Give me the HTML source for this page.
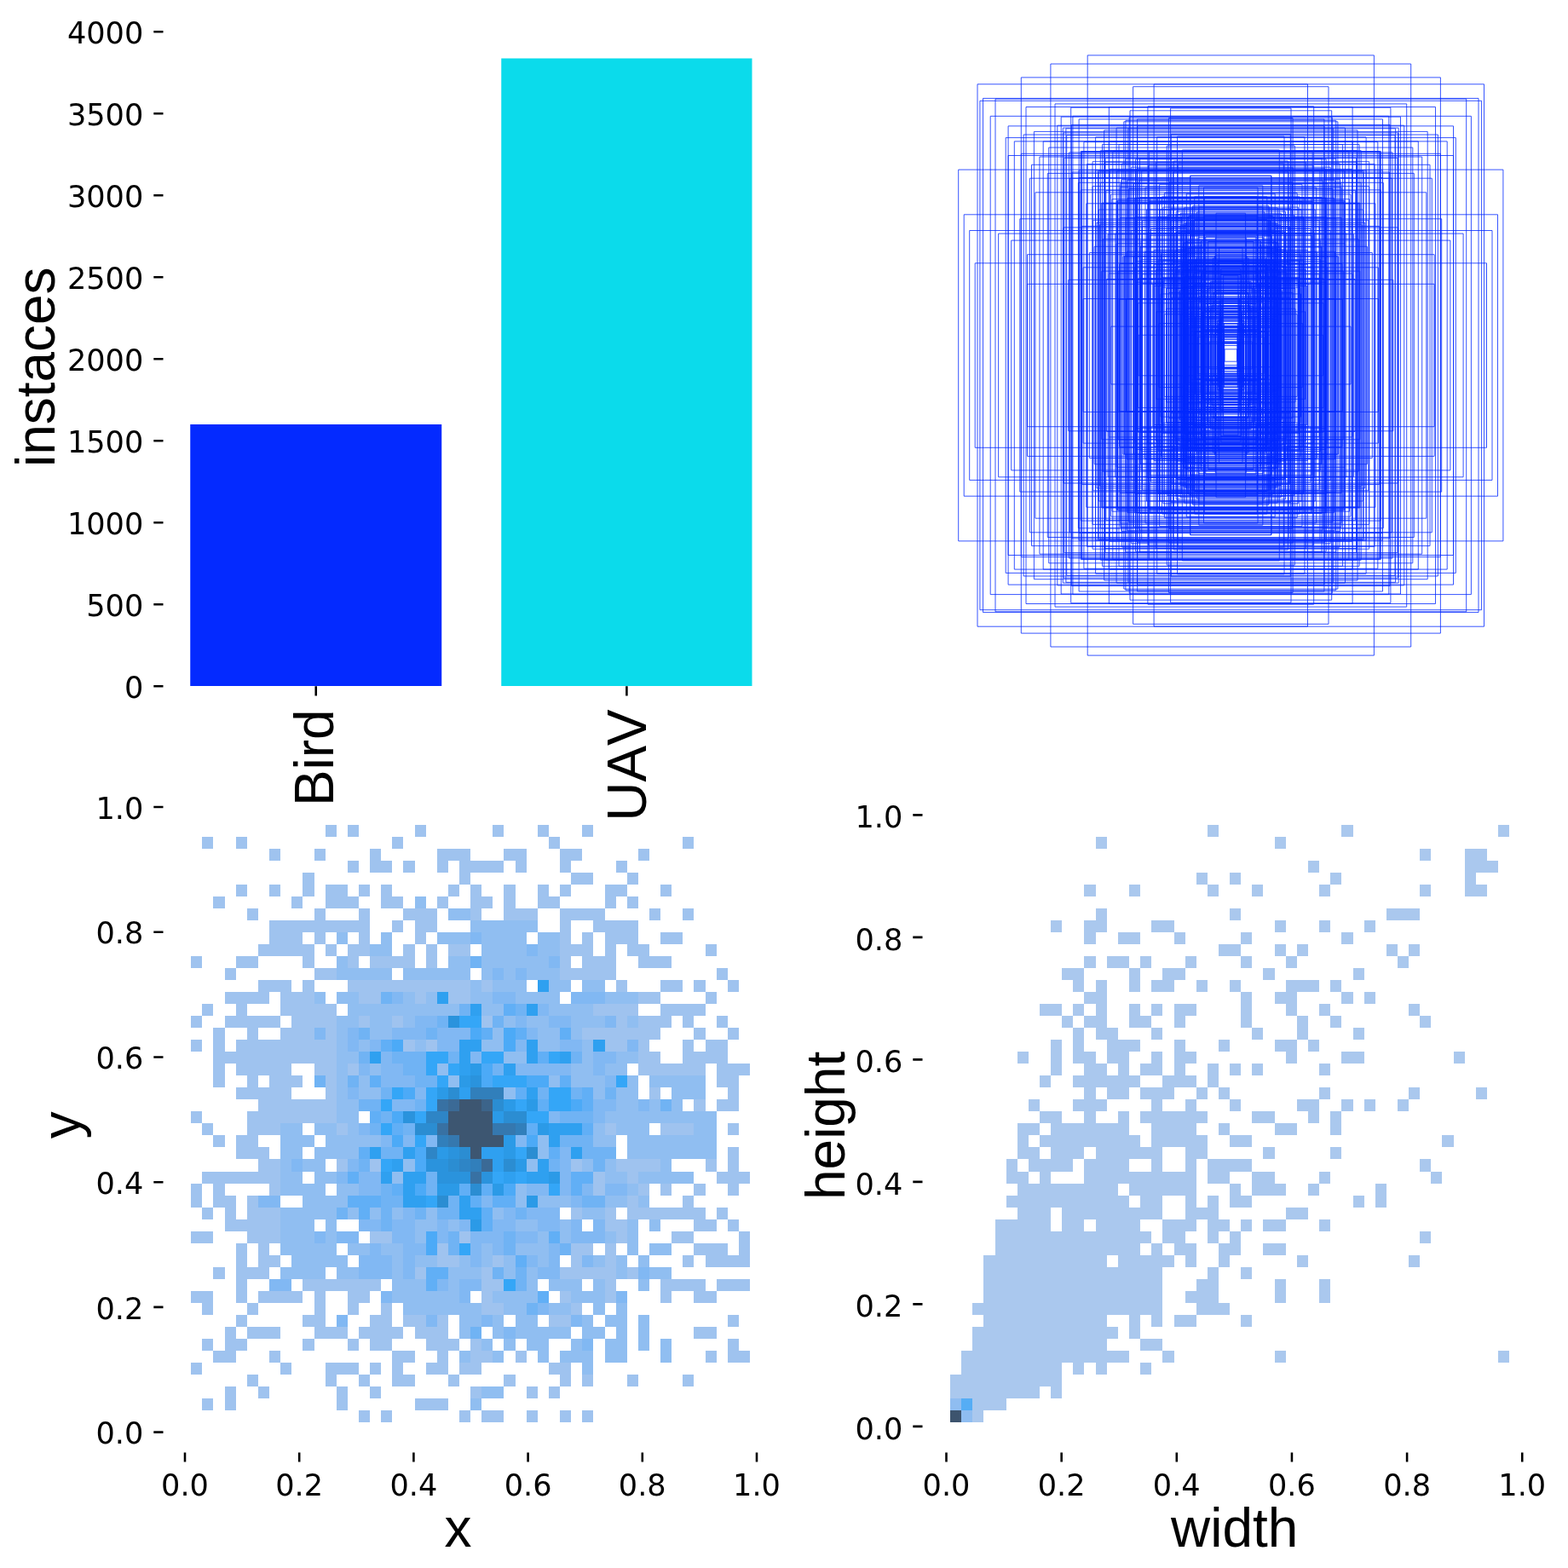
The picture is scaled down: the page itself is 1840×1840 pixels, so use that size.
<!DOCTYPE html>
<html lang="en"><head><meta charset="utf-8"><title>labels</title>
<style>
html,body{margin:0;padding:0;background:#fff;}
body{width:1840px;height:1840px;overflow:hidden;}
svg{display:block;}
.t{font-family:"DejaVu Sans","Liberation Sans",sans-serif;font-size:35.13px;fill:#000;}
.l{font-family:"Liberation Sans",Arial,Helvetica,sans-serif;font-size:63.9px;fill:#000;font-kerning:none;}
.k{stroke:#000;stroke-width:2.56;fill:none;}
</style></head>
<body>
<svg width="1840" height="1840" viewBox="0 0 1840 1840">
<rect x="0" y="0" width="1840" height="1840" fill="#fff"/>
<g id="bars">
<rect x="223.25" y="498.00" width="295.00" height="307.00" fill="#042aff"/>
<rect x="588.25" y="68.50" width="294.25" height="736.50" fill="#0bdbeb"/>
<text class="t" text-anchor="end" x="168.30" y="818.95">0</text>
<text class="t" text-anchor="end" x="168.30" y="722.95">500</text>
<text class="t" text-anchor="end" x="168.30" y="626.95">1000</text>
<text class="t" text-anchor="end" x="168.30" y="530.95">1500</text>
<text class="t" text-anchor="end" x="168.30" y="434.95">2000</text>
<text class="t" text-anchor="end" x="168.30" y="338.95">2500</text>
<text class="t" text-anchor="end" x="168.30" y="242.95">3000</text>
<text class="t" text-anchor="end" x="168.30" y="146.95">3500</text>
<text class="t" text-anchor="end" x="168.30" y="50.95">4000</text>
<path class="k" d="M180.30 805.25H191.50M180.30 709.25H191.50M180.30 613.25H191.50M180.30 517.25H191.50M180.30 421.25H191.50M180.30 325.25H191.50M180.30 229.25H191.50M180.30 133.25H191.50M180.30 37.25H191.50M370.75 805.25V816.40M735.40 805.25V816.40"/>
<text class="l" transform="translate(390.80 946.00) rotate(-90)">Bird</text>
<text class="l" transform="translate(758.25 963.70) rotate(-90)">UAV</text>
<text class="l" text-anchor="middle" transform="translate(63.60 430.80) rotate(-90)">instaces</text>
</g>
<g id="rects" fill="none" stroke="#042aff" stroke-width="0.8" stroke-opacity="1">
<path d="M1276.2 64.9h336.2v704.2h-336.2zM1232.9 75.0h422.8v684.0h-422.8zM1198.3 90.9h492.1v652.2h-492.1zM1147.0 98.8h594.5v636.4h-594.5zM1354.1 98.8h180.4v636.4h-180.4zM1329.6 101.7h229.4v630.6h-229.4zM1153.5 115.4h581.5v603.2h-581.5zM1149.9 118.3h588.7v597.4h-588.7zM1168.0 116.1h552.7v601.7h-552.7zM1238.0 121.9h412.7v590.2h-412.7zM1204.0 125.5h480.5v583.0h-480.5zM1256.7 126.2h375.2v581.5h-375.2zM1301.4 125.5h285.7v583.0h-285.7zM1346.9 124.8h194.8v584.4h-194.8zM1326.0 129.8h236.7v574.3h-236.7zM1373.6 127.0h141.4v580.1h-141.4zM1162.2 136.3h564.2v561.3h-564.2zM1266.1 139.9h356.4v554.1h-356.4zM1318.8 142.8h251.1v548.3h-251.1zM1257.4 146.4h373.7v541.1h-373.7zM1183.1 147.9h522.4v538.2h-522.4zM1240.8 147.2h406.9v539.7h-406.9zM1213.4 154.4h461.8v525.3h-461.8zM1295.7 152.9h297.3v528.1h-297.3zM1201.1 158.0h486.3v518.0h-486.3zM1180.2 161.6h528.1v510.8h-528.1zM1190.3 165.9h507.9v502.2h-507.9zM1224.2 165.9h440.1v502.2h-440.1zM1293.5 169.5h301.6v494.9h-301.6zM1230.7 173.1h427.1v487.7h-427.1zM1348.3 178.2h191.9v477.6h-191.9zM1183.1 182.5h522.4v469.0h-522.4zM1198.3 180.3h492.1v473.3h-492.1zM1219.9 184.0h448.8v466.1h-448.8zM1248.8 185.4h391.1v463.2h-391.1zM1124.7 199.1h639.2v435.8h-639.2zM1210.5 193.3h467.5v447.3h-467.5zM1229.3 203.4h430.0v427.1h-430.0zM1208.4 209.2h471.9v415.6h-471.9zM1282.0 218.6h324.7v396.8h-324.7zM1214.9 225.8h458.9v382.4h-458.9zM1310.8 200.6h267.0v432.9h-267.0zM1377.2 235.9h134.2v362.2h-134.2zM1131.2 251.8h626.3v330.4h-626.3zM1196.8 256.8h494.9v320.3h-494.9zM1137.7 270.5h613.3v292.9h-613.3zM1171.6 274.1h545.5v285.7h-545.5zM1186.7 282.1h515.2v269.8h-515.2zM1248.0 266.9h392.5v300.1h-392.5zM1144.2 308.8h600.3v216.5h-600.3zM1205.5 298.7h477.6v236.7h-477.6zM1253.8 328.3h381.0v177.5h-381.0zM1205.5 333.3h477.6v167.4h-477.6zM1271.1 350.6h346.3v132.8h-346.3zM1371.4 138.5h145.7v557.0h-145.7zM1334.6 147.9h219.3v538.2h-219.3zM1323.8 150.8h241.0v532.5h-241.0zM1381.5 160.1h125.5v513.7h-125.5zM1369.3 171.0h150.1v492.1h-150.1zM1291.3 176.7h305.9v480.5h-305.9zM1377.2 189.0h134.2v456.0h-134.2zM1371.4 196.9h145.7v440.1h-145.7zM1289.2 202.0h310.2v430.0h-310.2zM1322.4 211.4h243.9v411.3h-243.9zM1418.3 359.3h51.9v115.4h-51.9zM1390.2 323.9h108.2v186.1h-108.2zM1380.8 272.0h127.0v290.0h-127.0zM1310.1 150.1h268.4v533.9h-268.4zM1320.9 256.1h246.8v321.8h-246.8zM1428.4 376.6h31.7v80.8h-31.7zM1378.6 319.6h131.3v194.8h-131.3zM1296.4 190.4h295.8v453.1h-295.8zM1411.1 387.4h66.4v59.2h-66.4zM1413.3 392.5h62.0v49.1h-62.0zM1349.8 232.3h189.0v369.4h-189.0zM1396.7 277.0h95.2v279.9h-95.2zM1308.7 274.1h271.3v285.7h-271.3zM1258.1 202.0h372.3v430.0h-372.3zM1287.0 261.2h314.6v311.7h-314.6zM1389.5 336.2h109.7v161.6h-109.7zM1325.2 137.8h238.1v558.4h-238.1zM1300.0 274.9h288.6v284.3h-288.6zM1432.0 350.6h24.5v132.8h-24.5zM1282.7 258.3h323.2v317.5h-323.2zM1347.6 194.1h193.4v445.9h-193.4zM1339.0 304.4h210.7v225.1h-210.7zM1401.7 257.6h85.1v318.9h-85.1zM1291.3 214.3h305.9v405.5h-305.9zM1357.7 160.9h173.2v512.3h-173.2zM1435.6 384.5h17.3v64.9h-17.3zM1392.3 269.8h103.9v294.4h-103.9zM1271.9 166.6h344.9v500.7h-344.9zM1274.8 238.8h339.1v356.4h-339.1zM1331.8 254.7h225.1v324.7h-225.1zM1412.5 318.9h63.5v196.2h-63.5zM1384.4 341.2h119.8v151.5h-119.8zM1406.8 347.7h75.0v138.5h-75.0zM1410.4 386.7h67.8v60.6h-67.8zM1247.3 150.1h393.9v533.9h-393.9zM1436.4 396.1h15.9v41.8h-15.9zM1393.1 254.7h102.5v324.7h-102.5zM1409.7 321.8h69.3v190.5h-69.3zM1357.7 256.8h173.2v320.3h-173.2zM1386.6 332.6h115.4v168.8h-115.4zM1314.4 215.7h259.7v402.6h-259.7zM1423.4 344.9h41.8v144.3h-41.8zM1409.7 318.9h69.3v196.2h-69.3zM1436.4 402.6h15.9v28.9h-15.9zM1432.8 315.3h23.1v203.5h-23.1zM1392.3 297.2h103.9v239.5h-103.9zM1432.0 322.5h24.5v189.0h-24.5zM1401.7 312.4h85.1v209.2h-85.1zM1362.8 337.6h163.1v158.7h-163.1zM1418.3 373.7h51.9v86.6h-51.9zM1282.0 189.7h324.7v454.5h-324.7zM1266.1 208.5h356.4v417.0h-356.4zM1364.9 326.8h158.7v180.4h-158.7zM1401.0 389.6h86.6v54.8h-86.6zM1403.2 305.2h82.3v223.7h-82.3zM1432.0 366.5h24.5v101.0h-24.5zM1396.7 313.8h95.2v206.3h-95.2zM1400.3 258.3h88.0v317.5h-88.0zM1360.6 236.6h167.4v360.8h-167.4zM1388.7 284.2h111.1v265.5h-111.1zM1406.8 217.9h75.0v398.3h-75.0zM1346.9 238.8h194.8v356.4h-194.8zM1403.9 303.7h80.8v226.6h-80.8zM1406.8 318.1h75.0v197.7h-75.0zM1397.4 388.9h93.8v56.3h-93.8zM1354.8 335.5h178.9v163.1h-178.9zM1374.3 349.2h140.0v135.6h-140.0zM1323.1 232.3h242.4v369.4h-242.4zM1431.3 370.1h26.0v93.8h-26.0zM1414.7 277.8h59.2v278.5h-59.2zM1278.4 296.5h331.9v241.0h-331.9zM1349.1 276.3h190.5v281.4h-190.5zM1435.6 323.2h17.3v187.6h-17.3zM1374.3 157.3h140.0v519.5h-140.0zM1433.5 372.3h21.6v89.5h-21.6zM1427.0 250.3h34.6v333.3h-34.6zM1385.9 319.6h116.9v194.8h-116.9zM1362.0 344.9h164.5v144.3h-164.5zM1400.3 334.8h88.0v164.5h-88.0zM1403.2 313.1h82.3v207.8h-82.3zM1356.3 190.4h176.0v453.1h-176.0zM1339.7 200.6h209.2v432.9h-209.2zM1297.1 185.4h294.4v463.2h-294.4zM1333.2 238.1h222.2v357.9h-222.2zM1292.8 318.1h303.0v197.7h-303.0zM1314.4 220.0h259.7v393.9h-259.7zM1389.5 377.3h109.7v79.4h-109.7zM1254.5 178.9h379.5v476.2h-379.5zM1359.2 305.2h170.3v223.7h-170.3zM1360.6 216.4h167.4v401.2h-167.4zM1424.1 343.4h40.4v147.2h-40.4zM1331.8 232.3h225.1v369.4h-225.1zM1333.2 331.1h222.2v171.7h-222.2zM1416.9 355.7h54.8v122.7h-54.8zM1392.3 227.2h103.9v379.5h-103.9zM1420.5 330.4h47.6v173.2h-47.6zM1429.1 359.3h30.3v115.4h-30.3zM1297.8 223.6h292.9v386.7h-292.9zM1409.7 382.4h69.3v69.3h-69.3zM1394.5 291.5h99.6v251.1h-99.6zM1434.2 359.3h20.2v115.4h-20.2zM1411.8 364.3h64.9v105.3h-64.9zM1421.2 344.9h46.2v144.3h-46.2zM1399.6 241.7h89.5v350.6h-89.5zM1393.8 353.5h101.0v127.0h-101.0zM1421.9 383.8h44.7v66.4h-44.7zM1388.7 375.1h111.1v83.7h-111.1zM1363.5 325.4h161.6v183.3h-161.6zM1284.1 289.3h320.3v255.4h-320.3zM1434.9 401.1h18.8v31.7h-18.8zM1409.7 282.8h69.3v268.4h-69.3zM1391.6 272.7h105.3v288.6h-105.3zM1302.2 198.4h284.3v437.2h-284.3zM1380.1 251.8h128.4v330.4h-128.4zM1363.5 351.3h161.6v131.3h-161.6zM1266.1 199.8h356.4v434.3h-356.4zM1416.9 335.5h54.8v163.1h-54.8zM1359.9 379.5h168.8v75.0h-168.8zM1248.0 155.8h392.5v522.4h-392.5zM1343.3 295.8h202.0v242.4h-202.0zM1396.7 331.9h95.2v170.3h-95.2zM1292.8 238.1h303.0v357.9h-303.0zM1393.1 309.5h102.5v215.0h-102.5zM1413.3 230.8h62.0v372.3h-62.0zM1378.6 274.1h131.3v285.7h-131.3zM1311.5 237.3h265.5v359.3h-265.5zM1410.4 320.3h67.8v193.4h-67.8zM1388.7 273.4h111.1v287.2h-111.1zM1335.3 355.7h217.9v122.7h-217.9zM1258.9 136.3h370.9v561.3h-370.9zM1411.1 355.7h66.4v122.7h-66.4zM1265.4 214.3h357.9v405.5h-357.9zM1393.8 403.3h101.0v27.4h-101.0zM1389.5 243.8h109.7v346.3h-109.7zM1401.7 287.9h85.1v258.3h-85.1zM1412.5 220.0h63.5v393.9h-63.5zM1290.6 263.3h307.4v307.4h-307.4zM1412.5 272.7h63.5v288.6h-63.5zM1398.1 259.0h92.4v316.0h-92.4zM1319.5 300.8h249.6v232.3h-249.6zM1434.2 350.6h20.2v132.8h-20.2zM1425.5 390.3h37.5v53.4h-37.5zM1289.2 246.0h310.2v342.0h-310.2zM1388.7 262.6h111.1v308.8h-111.1zM1385.9 368.7h116.9v96.7h-116.9zM1393.8 313.1h101.0v207.8h-101.0zM1390.2 308.8h108.2v216.5h-108.2zM1390.2 264.0h108.2v305.9h-108.2zM1394.5 305.2h99.6v223.7h-99.6zM1348.3 236.6h191.9v360.8h-191.9zM1321.6 350.6h245.3v132.8h-245.3zM1398.1 336.2h92.4v161.6h-92.4zM1411.8 365.1h64.9v103.9h-64.9zM1388.7 285.7h111.1v262.6h-111.1zM1379.4 312.4h129.9v209.2h-129.9zM1320.9 141.4h246.8v551.2h-246.8zM1285.6 199.8h317.5v434.3h-317.5zM1411.1 333.3h66.4v167.4h-66.4zM1413.3 315.3h62.0v203.5h-62.0zM1426.3 369.4h36.1v95.2h-36.1zM1436.4 405.5h15.9v23.1h-15.9zM1390.2 324.6h108.2v184.7h-108.2zM1361.3 246.0h165.9v342.0h-165.9zM1421.2 392.5h46.2v49.1h-46.2zM1363.5 230.8h161.6v372.3h-161.6zM1426.3 279.2h36.1v275.6h-36.1zM1420.5 361.4h47.6v111.1h-47.6zM1375.0 266.2h138.5v301.6h-138.5zM1335.3 326.8h217.9v180.4h-217.9zM1387.3 308.1h114.0v217.9h-114.0zM1362.8 298.7h163.1v236.7h-163.1zM1433.5 383.8h21.6v66.4h-21.6zM1409.0 372.3h70.7v89.5h-70.7zM1311.5 235.2h265.5v363.6h-265.5zM1390.2 326.1h108.2v181.8h-108.2zM1394.5 253.9h99.6v326.1h-99.6zM1385.1 344.9h118.3v144.3h-118.3zM1337.5 289.3h213.6v255.4h-213.6zM1371.4 343.4h145.7v147.2h-145.7zM1391.6 261.2h105.3v311.7h-105.3zM1364.9 329.7h158.7v174.6h-158.7zM1345.5 246.0h197.7v342.0h-197.7zM1411.8 309.5h64.9v215.0h-64.9zM1338.2 326.8h212.1v180.4h-212.1zM1429.9 380.2h28.9v73.6h-28.9zM1403.9 318.1h80.8v197.7h-80.8zM1310.1 235.9h268.4v362.2h-268.4zM1409.7 287.1h69.3v259.7h-69.3zM1303.6 383.1h281.4v67.8h-281.4zM1386.6 271.3h115.4v291.5h-115.4zM1431.3 365.1h26.0v103.9h-26.0zM1436.4 394.6h15.9v44.7h-15.9zM1432.0 362.2h24.5v109.7h-24.5zM1320.9 186.1h246.8v461.8h-246.8zM1398.1 353.5h92.4v127.0h-92.4zM1409.7 328.3h69.3v177.5h-69.3zM1350.5 268.4h187.6v297.3h-187.6zM1380.8 272.0h127.0v290.0h-127.0zM1380.1 248.2h128.4v337.7h-128.4zM1269.0 178.2h350.6v477.6h-350.6zM1275.5 192.6h337.7v448.8h-337.7zM1403.2 333.3h82.3v167.4h-82.3zM1386.6 290.7h115.4v252.5h-115.4zM1419.0 401.1h50.5v31.7h-50.5zM1395.2 384.5h98.1v64.9h-98.1zM1363.5 256.8h161.6v320.3h-161.6zM1333.2 232.3h222.2v369.4h-222.2zM1394.5 373.7h99.6v86.6h-99.6zM1376.5 307.3h135.6v219.3h-135.6zM1269.7 178.2h349.2v477.6h-349.2zM1376.5 202.0h135.6v430.0h-135.6zM1382.2 191.9h124.1v450.2h-124.1zM1396.7 206.3h95.2v421.4h-95.2zM1409.7 323.2h69.3v187.6h-69.3zM1421.9 331.1h44.7v171.7h-44.7zM1434.9 344.1h18.8v145.7h-18.8zM1331.8 313.1h225.1v207.8h-225.1zM1250.9 150.8h386.7v532.5h-386.7zM1416.2 339.1h56.3v155.8h-56.3zM1388.0 317.4h112.6v199.1h-112.6zM1333.9 258.3h220.8v317.5h-220.8zM1366.4 368.7h155.8v96.7h-155.8zM1391.6 382.4h105.3v69.3h-105.3zM1360.6 309.5h167.4v215.0h-167.4zM1332.5 306.6h223.7v220.8h-223.7zM1303.6 228.0h281.4v378.1h-281.4zM1387.3 176.0h114.0v482.0h-114.0zM1338.2 290.0h212.1v254.0h-212.1zM1322.4 295.1h243.9v243.9h-243.9zM1251.7 158.7h385.3v516.6h-385.3zM1368.5 362.2h151.5v109.7h-151.5zM1354.1 333.3h180.4v167.4h-180.4zM1390.9 284.2h106.8v265.5h-106.8zM1409.0 321.8h70.7v190.5h-70.7zM1366.4 226.5h155.8v381.0h-155.8zM1370.0 252.5h148.6v329.0h-148.6zM1405.3 354.9h77.9v124.1h-77.9zM1316.6 191.9h255.4v450.2h-255.4zM1295.0 238.8h298.7v356.4h-298.7zM1333.9 197.7h220.8v438.7h-220.8zM1313.0 351.3h262.6v131.3h-262.6zM1430.6 290.7h27.4v252.5h-27.4zM1429.9 398.2h28.9v37.5h-28.9zM1396.0 290.7h96.7v252.5h-96.7zM1414.7 356.4h59.2v121.2h-59.2zM1332.5 199.8h223.7v434.3h-223.7zM1389.5 371.6h109.7v90.9h-109.7zM1374.3 259.0h140.0v316.0h-140.0zM1393.8 282.1h101.0v269.8h-101.0zM1417.6 335.5h53.4v163.1h-53.4zM1338.2 332.6h212.1v168.8h-212.1zM1423.4 303.0h41.8v228.0h-41.8zM1433.5 398.2h21.6v37.5h-21.6zM1404.6 248.9h79.4v336.2h-79.4zM1429.9 379.5h28.9v75.0h-28.9zM1398.1 365.8h92.4v102.5h-92.4zM1394.5 361.4h99.6v111.1h-99.6zM1377.9 295.1h132.8v243.9h-132.8zM1298.6 327.5h291.5v178.9h-291.5zM1337.5 231.6h213.6v370.9h-213.6zM1374.3 308.1h140.0v217.9h-140.0zM1409.7 309.5h69.3v215.0h-69.3zM1402.5 371.6h83.7v90.9h-83.7zM1383.0 311.7h122.7v210.7h-122.7zM1294.2 280.6h300.1v272.7h-300.1zM1356.3 316.7h176.0v200.6h-176.0zM1434.9 401.1h18.8v31.7h-18.8zM1362.8 296.5h163.1v241.0h-163.1zM1429.1 402.6h30.3v28.9h-30.3zM1354.1 310.2h180.4v213.6h-180.4zM1381.5 292.9h125.5v248.2h-125.5zM1402.5 388.9h83.7v56.3h-83.7zM1406.8 243.1h75.0v347.8h-75.0zM1340.4 265.5h207.8v303.0h-207.8zM1271.1 313.8h346.3v206.3h-346.3zM1397.4 252.5h93.8v329.0h-93.8zM1301.4 321.0h285.7v191.9h-285.7zM1395.2 315.3h98.1v203.5h-98.1zM1426.3 340.5h36.1v153.0h-36.1zM1385.1 264.8h118.3v304.5h-118.3zM1301.4 165.9h285.7v502.2h-285.7zM1406.1 278.5h76.5v277.1h-76.5zM1416.2 371.6h56.3v90.9h-56.3zM1346.9 313.8h194.8v206.3h-194.8zM1268.2 177.5h352.1v479.1h-352.1zM1368.5 338.4h151.5v157.3h-151.5zM1409.7 342.7h69.3v148.6h-69.3zM1390.9 350.6h106.8v132.8h-106.8zM1296.4 176.7h295.8v480.5h-295.8zM1403.9 340.5h80.8v153.0h-80.8zM1346.2 273.4h196.2v287.2h-196.2zM1364.2 305.9h160.2v222.2h-160.2zM1285.6 160.9h317.5v512.3h-317.5zM1288.5 200.6h311.7v432.9h-311.7zM1376.5 266.2h135.6v301.6h-135.6zM1313.0 169.5h262.6v494.9h-262.6zM1417.6 321.8h53.4v190.5h-53.4zM1415.4 387.4h57.7v59.2h-57.7zM1245.2 137.1h398.3v559.9h-398.3zM1432.0 352.8h24.5v128.4h-24.5zM1340.4 259.0h207.8v316.0h-207.8zM1357.0 365.8h174.6v102.5h-174.6zM1327.4 270.5h233.8v292.9h-233.8zM1424.1 393.2h40.4v47.6h-40.4zM1429.9 386.0h28.9v62.0h-28.9zM1334.6 139.9h219.3v554.1h-219.3zM1336.1 212.1h216.5v409.8h-216.5zM1429.1 395.4h30.3v43.3h-30.3zM1332.5 186.8h223.7v460.3h-223.7zM1359.2 335.5h170.3v163.1h-170.3zM1305.0 233.7h278.5v366.5h-278.5zM1411.8 366.5h64.9v101.0h-64.9zM1425.5 300.1h37.5v233.8h-37.5zM1432.8 343.4h23.1v147.2h-23.1zM1405.3 395.4h77.9v43.3h-77.9zM1426.3 367.9h36.1v98.1h-36.1zM1340.4 321.8h207.8v190.5h-207.8zM1268.2 222.9h352.1v388.2h-352.1zM1352.7 333.3h183.3v167.4h-183.3zM1314.4 255.4h259.7v323.2h-259.7zM1403.9 352.8h80.8v128.4h-80.8zM1399.6 243.1h89.5v347.8h-89.5zM1386.6 253.9h115.4v326.1h-115.4zM1330.3 215.7h228.0v402.6h-228.0zM1393.8 305.2h101.0v223.7h-101.0zM1330.3 300.8h228.0v232.3h-228.0zM1354.1 293.6h180.4v246.8h-180.4zM1427.0 341.2h34.6v151.5h-34.6zM1327.4 196.2h233.8v441.6h-233.8zM1373.6 244.6h141.4v344.9h-141.4zM1313.7 309.5h261.2v215.0h-261.2zM1423.4 354.9h41.8v124.1h-41.8zM1269.7 265.5h349.2v303.0h-349.2zM1318.0 300.8h252.5v232.3h-252.5zM1385.1 250.3h118.3v333.3h-118.3zM1425.5 388.1h37.5v57.7h-37.5zM1432.8 358.6h23.1v116.9h-23.1zM1312.3 318.1h264.1v197.7h-264.1zM1419.0 337.6h50.5v158.7h-50.5zM1436.4 391.0h15.9v51.9h-15.9zM1429.1 306.6h30.3v220.8h-30.3zM1324.5 221.5h239.5v391.1h-239.5zM1401.7 230.8h85.1v372.3h-85.1zM1336.1 393.2h216.5v47.6h-216.5zM1417.6 392.5h53.4v49.1h-53.4zM1406.1 362.9h76.5v108.2h-76.5zM1403.2 302.3h82.3v229.4h-82.3zM1380.1 338.4h128.4v157.3h-128.4zM1430.6 375.1h27.4v83.7h-27.4zM1396.7 275.6h95.2v282.8h-95.2zM1396.7 206.3h95.2v421.4h-95.2zM1398.1 307.3h92.4v219.3h-92.4zM1388.7 349.2h111.1v135.6h-111.1zM1315.9 210.7h256.9v412.7h-256.9zM1417.6 283.5h53.4v267.0h-53.4zM1388.7 360.0h111.1v114.0h-111.1zM1414.7 313.8h59.2v206.3h-59.2zM1421.9 358.6h44.7v116.9h-44.7zM1337.5 186.1h213.6v461.8h-213.6zM1358.4 231.6h171.7v370.9h-171.7zM1305.8 177.5h277.1v479.1h-277.1zM1372.1 213.5h144.3v406.9h-144.3zM1436.4 379.5h15.9v75.0h-15.9zM1293.5 238.8h301.6v356.4h-301.6zM1344.0 220.0h200.6v393.9h-200.6zM1400.3 321.0h88.0v191.9h-88.0zM1406.1 307.3h76.5v219.3h-76.5zM1426.3 300.1h36.1v233.8h-36.1zM1390.2 291.5h108.2v251.1h-108.2zM1255.3 209.2h378.1v415.6h-378.1zM1310.1 285.7h268.4v262.6h-268.4zM1409.0 282.8h70.7v268.4h-70.7zM1339.0 282.1h210.7v269.8h-210.7zM1359.2 254.7h170.3v324.7h-170.3zM1364.9 243.1h158.7v347.8h-158.7zM1401.0 311.7h86.6v210.7h-86.6zM1410.4 350.6h67.8v132.8h-67.8zM1413.3 253.2h62.0v327.6h-62.0zM1396.7 271.3h95.2v291.5h-95.2zM1383.7 316.0h121.2v202.0h-121.2zM1437.1 409.8h14.4v14.4h-14.4z"/>
</g>
<g id="xy">
<g shape-rendering="crispEdges">
<path fill="#9fc3ef" d="M382 968H395V982H382ZM408 968H421V982H408ZM487 968H500V982H487ZM578 968H591V982H578ZM631 968H644V982H631ZM683 968H696V982H683ZM237 982H250V996H237ZM277 982H290V996H277ZM460 982H473V996H460ZM644 982H657V996H644ZM801 982H814V996H801ZM316 996H329V1010H316ZM369 996H382V1010H369ZM434 996H447V1010H434ZM513 996H552V1010H513ZM591 996H618V1010H591ZM657 996H683V1010H657ZM749 996H762V1010H749ZM408 1010H421V1024H408ZM434 1010H460V1024H434ZM473 1010H487V1024H473ZM513 1010H526V1024H513ZM539 1010H591V1024H539ZM605 1010H618V1024H605ZM657 1010H670V1024H657ZM723 1010H736V1024H723ZM355 1024H369V1038H355ZM539 1024H552V1038H539ZM670 1024H696V1038H670ZM736 1024H749V1038H736ZM277 1038H290V1052H277ZM316 1038H329V1052H316ZM355 1038H369V1052H355ZM382 1038H408V1052H382ZM421 1038H434V1052H421ZM447 1038H460V1052H447ZM526 1038H539V1052H526ZM552 1038H565V1052H552ZM591 1038H605V1052H591ZM631 1038H644V1052H631ZM657 1038H670V1052H657ZM710 1038H736V1052H710ZM775 1038H788V1052H775ZM250 1052H264V1066H250ZM342 1052H355V1066H342ZM382 1052H421V1066H382ZM447 1052H473V1066H447ZM513 1052H526V1066H513ZM552 1052H578V1066H552ZM591 1052H605V1066H591ZM631 1052H657V1066H631ZM710 1052H723V1066H710ZM736 1052H749V1066H736ZM290 1066H303V1080H290ZM369 1066H382V1080H369ZM421 1066H434V1080H421ZM473 1066H513V1080H473ZM552 1066H565V1080H552ZM591 1066H631V1080H591ZM657 1066H710V1080H657ZM762 1066H775V1080H762ZM801 1066H814V1080H801ZM316 1080H434V1094H316ZM460 1080H473V1094H460ZM487 1080H513V1094H487ZM657 1080H670V1094H657ZM696 1080H749V1094H696ZM316 1094H355V1108H316ZM369 1094H382V1108H369ZM421 1094H434V1108H421ZM487 1094H500V1108H487ZM657 1094H670V1108H657ZM683 1094H696V1108H683ZM710 1094H749V1108H710ZM775 1094H801V1108H775ZM303 1108H369V1122H303ZM382 1108H395V1122H382ZM408 1108H434V1122H408ZM473 1108H487V1122H473ZM500 1108H513V1122H500ZM526 1108H552V1122H526ZM657 1108H696V1122H657ZM710 1108H723V1122H710ZM736 1108H762V1122H736ZM828 1108H841V1122H828ZM224 1122H237V1136H224ZM277 1122H303V1136H277ZM355 1122H369V1136H355ZM408 1122H421V1136H408ZM434 1122H487V1136H434ZM500 1122H513V1136H500ZM657 1122H670V1136H657ZM683 1122H723V1136H683ZM749 1122H788V1136H749ZM264 1136H277V1150H264ZM369 1136H395V1150H369ZM657 1136H723V1150H657ZM841 1136H854V1150H841ZM303 1150H342V1164H303ZM355 1150H369V1164H355ZM408 1150H552V1164H408ZM565 1150H578V1164H565ZM723 1150H736V1164H723ZM775 1150H801V1164H775ZM814 1150H828V1164H814ZM854 1150H867V1164H854ZM264 1164H316V1178H264ZM329 1164H369V1178H329ZM421 1164H447V1178H421ZM487 1164H500V1178H487ZM526 1164H552V1178H526ZM749 1164H775V1178H749ZM828 1164H841V1178H828ZM237 1178H250V1192H237ZM277 1178H290V1192H277ZM329 1178H395V1192H329ZM696 1178H749V1192H696ZM775 1178H828V1192H775ZM224 1192H237V1206H224ZM264 1192H329V1206H264ZM342 1192H395V1206H342ZM421 1192H434V1206H421ZM460 1192H473V1206H460ZM565 1192H578V1206H565ZM723 1192H736V1206H723ZM749 1192H788V1206H749ZM801 1192H814V1206H801ZM841 1192H854V1206H841ZM250 1206H264V1220H250ZM290 1206H303V1220H290ZM329 1206H369V1220H329ZM382 1206H395V1220H382ZM683 1206H775V1220H683ZM814 1206H828V1220H814ZM854 1206H867V1220H854ZM224 1220H237V1234H224ZM250 1220H264V1234H250ZM277 1220H395V1234H277ZM473 1220H487V1234H473ZM500 1220H513V1234H500ZM710 1220H736V1234H710ZM749 1220H762V1234H749ZM801 1220H814V1234H801ZM828 1220H854V1234H828ZM250 1234H395V1248H250ZM749 1234H775V1248H749ZM801 1234H854V1248H801ZM250 1248H264V1262H250ZM277 1248H342V1262H277ZM369 1248H395V1262H369ZM408 1248H421V1262H408ZM749 1248H828V1262H749ZM841 1248H880V1262H841ZM250 1262H264V1276H250ZM290 1262H303V1276H290ZM316 1262H355V1276H316ZM382 1262H395V1276H382ZM841 1262H867V1276H841ZM277 1276H342V1290H277ZM382 1276H395V1290H382ZM762 1276H775V1290H762ZM854 1276H867V1290H854ZM303 1290H395V1304H303ZM814 1290H828V1304H814ZM841 1290H867V1304H841ZM224 1304H237V1318H224ZM290 1304H395V1318H290ZM237 1318H250V1332H237ZM290 1318H329V1332H290ZM395 1318H408V1332H395ZM710 1318H723V1332H710ZM775 1318H814V1332H775ZM854 1318H867V1332H854ZM250 1332H264V1346H250ZM277 1332H303V1346H277ZM277 1346H316V1360H277ZM854 1346H867V1360H854ZM303 1360H329V1375H303ZM395 1360H408V1375H395ZM434 1360H447V1375H434ZM670 1360H683V1375H670ZM723 1360H775V1375H723ZM828 1360H841V1375H828ZM854 1360H867V1375H854ZM237 1375H329V1389H237ZM696 1375H710V1389H696ZM736 1375H749V1389H736ZM841 1375H880V1389H841ZM224 1389H237V1403H224ZM250 1389H264V1403H250ZM316 1389H329V1403H316ZM696 1389H710V1403H696ZM749 1389H762V1403H749ZM775 1389H788V1403H775ZM814 1389H828V1403H814ZM854 1389H867V1403H854ZM224 1403H237V1417H224ZM250 1403H277V1417H250ZM290 1403H303V1417H290ZM736 1403H749V1417H736ZM801 1403H814V1417H801ZM237 1417H250V1431H237ZM264 1417H277V1431H264ZM290 1417H329V1431H290ZM670 1417H683V1431H670ZM710 1417H723V1431H710ZM736 1417H828V1431H736ZM841 1417H854V1431H841ZM264 1431H329V1445H264ZM710 1431H736V1445H710ZM814 1431H841V1445H814ZM854 1431H867V1445H854ZM224 1445H250V1459H224ZM290 1445H329V1459H290ZM434 1445H460V1459H434ZM539 1445H552V1459H539ZM723 1445H736V1459H723ZM788 1445H814V1459H788ZM867 1445H880V1459H867ZM277 1459H290V1473H277ZM303 1459H316V1473H303ZM513 1459H526V1473H513ZM670 1459H696V1473H670ZM710 1459H723V1473H710ZM814 1459H854V1473H814ZM867 1459H880V1473H867ZM277 1473H290V1487H277ZM303 1473H329V1487H303ZM513 1473H539V1487H513ZM578 1473H591V1487H578ZM670 1473H683V1487H670ZM710 1473H723V1487H710ZM801 1473H814V1487H801ZM828 1473H880V1487H828ZM250 1487H264V1501H250ZM277 1487H316V1501H277ZM487 1487H500V1501H487ZM565 1487H578V1501H565ZM657 1487H723V1501H657ZM736 1487H749V1501H736ZM277 1501H290V1515H277ZM355 1501H447V1515H355ZM565 1501H591V1515H565ZM710 1501H723V1515H710ZM775 1501H828V1515H775ZM841 1501H880V1515H841ZM224 1515H250V1529H224ZM277 1515H290V1529H277ZM303 1515H355V1529H303ZM369 1515H382V1529H369ZM408 1515H434V1529H408ZM565 1515H578V1529H565ZM657 1515H670V1529H657ZM710 1515H723V1529H710ZM775 1515H788V1529H775ZM814 1515H841V1529H814ZM237 1529H250V1543H237ZM290 1529H303V1543H290ZM369 1529H382V1543H369ZM408 1529H421V1543H408ZM447 1529H460V1543H447ZM565 1529H591V1543H565ZM670 1529H683V1543H670ZM277 1543H290V1557H277ZM355 1543H382V1557H355ZM434 1543H460V1557H434ZM473 1543H500V1557H473ZM513 1543H526V1557H513ZM644 1543H670V1557H644ZM854 1543H867V1557H854ZM264 1557H277V1571H264ZM290 1557H329V1571H290ZM369 1557H408V1571H369ZM421 1557H473V1571H421ZM487 1557H526V1571H487ZM814 1557H841V1571H814ZM237 1571H250V1585H237ZM264 1571H290V1585H264ZM355 1571H369V1585H355ZM408 1571H421V1585H408ZM434 1571H460V1585H434ZM500 1571H539V1585H500ZM552 1571H565V1585H552ZM854 1571H867V1585H854ZM250 1585H277V1599H250ZM316 1585H329V1599H316ZM460 1585H487V1599H460ZM513 1585H526V1599H513ZM552 1585H578V1599H552ZM605 1585H618V1599H605ZM828 1585H841V1599H828ZM854 1585H880V1599H854ZM224 1599H237V1613H224ZM329 1599H342V1613H329ZM382 1599H421V1613H382ZM434 1599H447V1613H434ZM460 1599H473V1613H460ZM500 1599H526V1613H500ZM539 1599H565V1613H539ZM644 1599H670V1613H644ZM290 1613H303V1627H290ZM382 1613H395V1627H382ZM421 1613H434V1627H421ZM460 1613H487V1627H460ZM526 1613H539V1627H526ZM591 1613H605V1627H591ZM657 1613H670V1627H657ZM683 1613H696V1627H683ZM736 1613H749V1627H736ZM801 1613H814V1627H801ZM264 1627H277V1641H264ZM303 1627H316V1641H303ZM395 1627H408V1641H395ZM434 1627H447V1641H434ZM552 1627H565V1641H552ZM618 1627H631V1641H618ZM644 1627H657V1641H644ZM237 1641H250V1655H237ZM264 1641H277V1655H264ZM395 1641H408V1655H395ZM487 1641H526V1655H487ZM421 1655H434V1669H421ZM447 1655H460V1669H447ZM539 1655H552V1669H539ZM565 1655H591V1669H565ZM618 1655H631V1669H618ZM657 1655H670V1669H657ZM683 1655H696V1669H683Z"/>
<path fill="#90bef1" d="M487 1052H500V1066H487ZM526 1066H552V1080H526ZM552 1080H631V1094H552ZM395 1094H408V1108H395ZM447 1094H460V1108H447ZM513 1094H552V1108H513ZM565 1094H618V1108H565ZM631 1094H657V1108H631ZM434 1108H460V1122H434ZM565 1108H618V1122H565ZM631 1108H657V1122H631ZM395 1122H408V1136H395ZM526 1122H552V1136H526ZM565 1122H644V1136H565ZM395 1136H460V1150H395ZM473 1136H552V1150H473ZM565 1136H578V1150H565ZM591 1136H605V1150H591ZM618 1136H657V1150H618ZM552 1150H565V1164H552ZM578 1150H618V1164H578ZM644 1150H670V1164H644ZM683 1150H710V1164H683ZM369 1164H382V1178H369ZM395 1164H421V1178H395ZM473 1164H487V1178H473ZM500 1164H513V1178H500ZM552 1164H578V1178H552ZM605 1164H657V1178H605ZM710 1164H749V1178H710ZM408 1178H539V1192H408ZM565 1178H591V1192H565ZM644 1178H696V1192H644ZM395 1192H421V1206H395ZM434 1192H460V1206H434ZM473 1192H487V1206H473ZM591 1192H605V1206H591ZM618 1192H644V1206H618ZM670 1192H710V1206H670ZM736 1192H749V1206H736ZM395 1206H408V1220H395ZM434 1206H460V1220H434ZM578 1206H591V1220H578ZM631 1206H657V1220H631ZM670 1206H683V1220H670ZM395 1220H408V1234H395ZM421 1220H434V1234H421ZM487 1220H500V1234H487ZM565 1220H591V1234H565ZM631 1220H657V1234H631ZM683 1220H696V1234H683ZM395 1234H421V1248H395ZM591 1234H618V1248H591ZM683 1234H696V1248H683ZM723 1234H749V1248H723ZM395 1248H408V1262H395ZM434 1248H447V1262H434ZM513 1248H526V1262H513ZM670 1248H696V1262H670ZM710 1248H736V1262H710ZM395 1262H408V1276H395ZM421 1262H434V1276H421ZM526 1262H539V1276H526ZM644 1262H657V1276H644ZM670 1262H710V1276H670ZM736 1262H749V1276H736ZM762 1262H828V1276H762ZM395 1276H408V1290H395ZM421 1276H447V1290H421ZM591 1276H605V1290H591ZM696 1276H710V1290H696ZM723 1276H749V1290H723ZM788 1276H828V1290H788ZM395 1290H421V1304H395ZM723 1290H749V1304H723ZM762 1290H775V1304H762ZM788 1290H801V1304H788ZM395 1304H421V1318H395ZM710 1304H841V1318H710ZM329 1318H355V1332H329ZM369 1318H395V1332H369ZM408 1318H421V1332H408ZM696 1318H710V1332H696ZM723 1318H762V1332H723ZM814 1318H841V1332H814ZM329 1332H369V1346H329ZM382 1332H447V1346H382ZM631 1332H644V1346H631ZM696 1332H723V1346H696ZM736 1332H841V1346H736ZM329 1346H355V1360H329ZM369 1346H421V1360H369ZM631 1346H644V1360H631ZM736 1346H841V1360H736ZM329 1360H342V1375H329ZM355 1360H382V1375H355ZM473 1360H487V1375H473ZM618 1360H631V1375H618ZM683 1360H696V1375H683ZM710 1360H723V1375H710ZM775 1360H788V1375H775ZM329 1375H355V1389H329ZM369 1375H395V1389H369ZM460 1375H473V1389H460ZM710 1375H736V1389H710ZM749 1375H814V1389H749ZM329 1389H382V1403H329ZM395 1389H421V1403H395ZM605 1389H618V1403H605ZM736 1389H749V1403H736ZM355 1403H408V1417H355ZM605 1403H618V1417H605ZM631 1403H670V1417H631ZM710 1403H736V1417H710ZM749 1403H762V1417H749ZM329 1417H395V1431H329ZM408 1417H421V1431H408ZM434 1417H447V1431H434ZM460 1417H473V1431H460ZM500 1417H513V1431H500ZM578 1417H591V1431H578ZM683 1417H710V1431H683ZM329 1431H369V1445H329ZM382 1431H395V1445H382ZM487 1431H513V1445H487ZM526 1431H539V1445H526ZM605 1431H631V1445H605ZM657 1431H670V1445H657ZM736 1431H749V1445H736ZM762 1431H775V1445H762ZM329 1445H369V1459H329ZM382 1445H395V1459H382ZM487 1445H500V1459H487ZM631 1445H644V1459H631ZM657 1445H670V1459H657ZM710 1445H723V1459H710ZM736 1445H749V1459H736ZM329 1459H395V1473H329ZM408 1459H434V1473H408ZM447 1459H473V1473H447ZM565 1459H578V1473H565ZM605 1459H644V1473H605ZM736 1459H749V1473H736ZM762 1459H788V1473H762ZM342 1473H408V1487H342ZM460 1473H473V1487H460ZM487 1473H513V1487H487ZM539 1473H552V1487H539ZM565 1473H578V1487H565ZM591 1473H605V1487H591ZM631 1473H644V1487H631ZM696 1473H710V1487H696ZM723 1473H736V1487H723ZM749 1473H762V1487H749ZM329 1487H382V1501H329ZM395 1487H421V1501H395ZM460 1487H473V1501H460ZM526 1487H565V1501H526ZM591 1487H605V1501H591ZM618 1487H631V1501H618ZM723 1487H736V1501H723ZM762 1487H788V1501H762ZM460 1501H500V1515H460ZM526 1501H539V1515H526ZM618 1501H631V1515H618ZM644 1501H683V1515H644ZM696 1501H710V1515H696ZM749 1501H762V1515H749ZM460 1515H539V1529H460ZM578 1515H631V1529H578ZM670 1515H710V1529H670ZM473 1529H565V1543H473ZM591 1529H618V1543H591ZM644 1529H670V1543H644ZM696 1529H710V1543H696ZM723 1529H736V1543H723ZM539 1543H565V1557H539ZM578 1543H591V1557H578ZM605 1543H631V1557H605ZM683 1543H696V1557H683ZM710 1543H736V1557H710ZM749 1543H762V1557H749ZM539 1557H552V1571H539ZM578 1557H591V1571H578ZM605 1557H670V1571H605ZM683 1557H710V1571H683ZM723 1557H736V1571H723ZM749 1557H762V1571H749ZM565 1571H578V1585H565ZM591 1571H605V1585H591ZM618 1571H644V1585H618ZM670 1571H683V1585H670ZM710 1571H736V1585H710ZM749 1571H762V1585H749ZM775 1571H788V1585H775ZM539 1585H552V1599H539ZM578 1585H591V1599H578ZM631 1585H644V1599H631ZM657 1585H696V1599H657ZM710 1585H736V1599H710ZM775 1585H788V1599H775ZM683 1599H696V1613H683ZM565 1627H591V1641H565ZM552 1641H565V1655H552Z"/>
<path fill="#81b8f3" d="M552 1094H565V1108H552ZM618 1108H631V1122H618ZM644 1122H657V1136H644ZM578 1136H591V1150H578ZM605 1136H618V1150H605ZM460 1164H473V1178H460ZM578 1164H605V1178H578ZM670 1164H710V1178H670ZM631 1178H644V1192H631ZM487 1192H513V1206H487ZM605 1192H618V1206H605ZM644 1192H670V1206H644ZM710 1192H723V1206H710ZM369 1206H382V1220H369ZM408 1206H421V1220H408ZM460 1206H500V1220H460ZM513 1206H552V1220H513ZM618 1206H631V1220H618ZM408 1220H421V1234H408ZM434 1220H447V1234H434ZM513 1220H539V1234H513ZM605 1220H618V1234H605ZM657 1220H683V1234H657ZM736 1220H749V1234H736ZM447 1234H460V1248H447ZM552 1234H565V1248H552ZM696 1234H723V1248H696ZM421 1248H434V1262H421ZM447 1248H473V1262H447ZM605 1248H670V1262H605ZM696 1248H710V1262H696ZM447 1262H487V1276H447ZM710 1262H723V1276H710ZM408 1276H421V1290H408ZM487 1276H500V1290H487ZM460 1290H487V1304H460ZM696 1290H723V1304H696ZM749 1290H762V1304H749ZM644 1304H657V1318H644ZM696 1304H710V1318H696ZM421 1318H434V1332H421ZM447 1332H460V1346H447ZM473 1332H487V1346H473ZM500 1332H513V1346H500ZM605 1332H618V1346H605ZM657 1346H670V1360H657ZM342 1360H355V1375H342ZM408 1360H421V1375H408ZM657 1360H670V1375H657ZM395 1375H408V1389H395ZM421 1375H447V1389H421ZM657 1375H670V1389H657ZM421 1389H447V1403H421ZM618 1389H644V1403H618ZM657 1389H670V1403H657ZM683 1389H696V1403H683ZM710 1389H736V1403H710ZM303 1403H329V1417H303ZM565 1403H578V1417H565ZM670 1403H683V1417H670ZM473 1417H487V1431H473ZM591 1417H605V1431H591ZM618 1417H657V1431H618ZM421 1431H447V1445H421ZM460 1431H487V1445H460ZM513 1431H526V1445H513ZM539 1431H552V1445H539ZM578 1431H605V1445H578ZM631 1431H657V1445H631ZM670 1431H683V1445H670ZM696 1431H710V1445H696ZM369 1445H382V1459H369ZM395 1445H421V1459H395ZM460 1445H487V1459H460ZM513 1445H526V1459H513ZM552 1445H591V1459H552ZM605 1445H631V1459H605ZM670 1445H710V1459H670ZM434 1459H447V1473H434ZM473 1459H500V1473H473ZM552 1459H565V1473H552ZM578 1459H591V1473H578ZM644 1459H657V1473H644ZM421 1473H460V1487H421ZM473 1473H487V1487H473ZM552 1473H565V1487H552ZM618 1473H631V1487H618ZM644 1473H657V1487H644ZM683 1473H696V1487H683ZM421 1487H460V1501H421ZM473 1487H487V1501H473ZM631 1487H657V1501H631ZM749 1487H762V1501H749ZM316 1501H342V1515H316ZM513 1501H526V1515H513ZM539 1501H565V1515H539ZM447 1515H460V1529H447ZM539 1515H552V1529H539ZM723 1515H736V1529H723ZM631 1529H644V1543H631ZM395 1543H408V1557H395ZM500 1543H513V1557H500ZM565 1543H578V1557H565ZM670 1543H683V1557H670ZM591 1557H605V1571H591ZM683 1571H696V1585H683Z"/>
<path fill="#70b3f4" d="M552 1122H565V1136H552ZM447 1164H460V1178H447ZM539 1178H552V1192H539ZM605 1178H618V1192H605ZM513 1192H526V1206H513ZM578 1192H591V1206H578ZM421 1206H434V1220H421ZM500 1206H513V1220H500ZM421 1234H434V1248H421ZM460 1234H500V1248H460ZM526 1234H539V1248H526ZM670 1234H683V1248H670ZM473 1248H500V1262H473ZM578 1248H591V1262H578ZM369 1262H382V1276H369ZM408 1262H421V1276H408ZM487 1262H513V1276H487ZM447 1276H460V1290H447ZM631 1276H644V1290H631ZM670 1276H683V1290H670ZM710 1276H723V1290H710ZM421 1290H447V1304H421ZM487 1290H500V1304H487ZM775 1290H788V1304H775ZM447 1304H460V1318H447ZM657 1304H696V1318H657ZM434 1318H447V1332H434ZM473 1318H487V1332H473ZM657 1332H696V1346H657ZM447 1346H473V1360H447ZM683 1346H723V1360H683ZM421 1360H434V1375H421ZM644 1360H657V1375H644ZM696 1360H710V1375H696ZM500 1375H513V1389H500ZM447 1389H460V1403H447ZM500 1389H513V1403H500ZM447 1403H473V1417H447ZM526 1403H539V1417H526ZM683 1403H710V1417H683ZM395 1417H408V1431H395ZM447 1417H460V1431H447ZM487 1417H500V1431H487ZM513 1417H539V1431H513ZM605 1417H618V1431H605ZM447 1431H460V1445H447ZM526 1445H539V1459H526ZM591 1445H605V1459H591ZM526 1459H539V1473H526ZM591 1459H605V1473H591ZM657 1459H670V1473H657ZM578 1487H591V1501H578ZM605 1487H618V1501H605ZM605 1501H618V1515H605ZM618 1529H631V1543H618ZM552 1557H565V1571H552Z"/>
<path fill="#61aff6" d="M591 1178H605V1192H591ZM565 1206H578V1220H565ZM605 1206H618V1220H605ZM657 1206H670V1220H657ZM447 1220H460V1234H447ZM631 1234H644V1248H631ZM434 1262H447V1276H434ZM657 1262H670V1276H657ZM605 1276H618V1290H605ZM683 1276H696V1290H683ZM631 1290H644V1304H631ZM683 1290H696V1304H683ZM434 1304H447V1318H434ZM460 1318H473V1332H460ZM618 1318H631V1332H618ZM683 1318H696V1332H683ZM421 1346H434V1360H421ZM644 1346H657V1360H644ZM408 1375H421V1389H408ZM670 1375H696V1389H670ZM460 1389H473V1403H460ZM539 1389H552V1403H539ZM565 1389H578V1403H565ZM670 1389H683V1403H670ZM408 1403H447V1417H408ZM552 1403H565V1417H552ZM578 1403H605V1417H578ZM421 1417H434V1431H421ZM565 1417H578V1431H565ZM565 1431H578V1445H565ZM644 1445H657V1459H644ZM605 1473H618V1487H605ZM500 1487H526V1501H500ZM500 1501H513V1515H500ZM631 1515H644V1529H631Z"/>
<path fill="#4caaf7" d="M552 1206H565V1220H552ZM591 1206H605V1220H591ZM460 1220H473V1234H460ZM591 1220H605V1234H591ZM565 1248H578V1262H565ZM565 1262H578V1276H565ZM618 1262H644V1276H618ZM473 1276H487V1290H473ZM670 1290H683V1304H670ZM460 1304H473V1318H460ZM460 1332H473V1346H460ZM618 1332H631V1346H618ZM487 1346H500V1360H487ZM487 1360H500V1375H487ZM487 1389H500V1403H487ZM591 1389H605V1403H591ZM500 1445H513V1459H500ZM500 1459H513V1473H500Z"/>
<path fill="#34a6f7" d="M539 1192H565V1206H539ZM500 1234H526V1248H500ZM565 1234H591V1248H565ZM644 1234H657V1248H644ZM500 1248H513V1262H500ZM526 1248H539V1262H526ZM513 1262H526V1276H513ZM578 1262H618V1276H578ZM723 1262H736V1276H723ZM460 1276H473V1290H460ZM500 1276H513V1290H500ZM644 1276H670V1290H644ZM447 1290H460V1304H447ZM500 1290H513V1304H500ZM605 1290H618V1304H605ZM644 1290H670V1304H644ZM487 1304H500V1318H487ZM618 1304H644V1318H618ZM447 1318H460V1332H447ZM487 1332H500V1346H487ZM605 1346H618V1360H605ZM447 1360H460V1375H447ZM578 1375H591V1389H578ZM605 1375H618V1389H605ZM644 1389H657V1403H644ZM500 1403H513V1417H500ZM539 1459H552V1473H539ZM591 1501H605V1515H591Z"/>
<path fill="#2fa0f0" d="M631 1150H644V1164H631ZM513 1164H526V1178H513ZM552 1178H565V1192H552ZM618 1178H631V1192H618ZM539 1220H565V1234H539ZM618 1220H631V1234H618ZM696 1220H710V1234H696ZM434 1234H447V1248H434ZM539 1234H552V1248H539ZM618 1234H631V1248H618ZM657 1234H670V1248H657ZM539 1248H552V1262H539ZM591 1248H605V1262H591ZM539 1276H552V1290H539ZM618 1276H631V1290H618ZM644 1318H683V1332H644ZM644 1332H657V1346H644ZM434 1346H447V1360H434ZM473 1346H487V1360H473ZM565 1346H591V1360H565ZM670 1346H683V1360H670ZM460 1360H473V1375H460ZM578 1360H591V1375H578ZM631 1360H644V1375H631ZM447 1375H460V1389H447ZM473 1375H500V1389H473ZM591 1375H605V1389H591ZM618 1375H644V1389H618ZM473 1389H487V1403H473ZM473 1403H500V1417H473ZM539 1403H552V1417H539ZM539 1417H565V1431H539Z"/>
<path fill="#2b9ae7" d="M552 1248H565V1262H552ZM539 1262H552V1276H539ZM513 1276H526V1290H513ZM591 1290H605V1304H591ZM618 1290H631V1304H618ZM578 1304H591V1318H578ZM631 1318H644V1332H631ZM591 1332H605V1346H591ZM513 1346H526V1360H513ZM591 1346H605V1360H591ZM605 1360H618V1375H605ZM644 1375H657V1389H644ZM513 1389H539V1403H513ZM578 1389H591V1403H578ZM618 1403H631V1417H618ZM552 1431H565V1445H552Z"/>
<path fill="#2a93dd" d="M526 1192H539V1206H526ZM552 1262H565V1276H552ZM473 1304H487V1318H473ZM526 1346H539V1360H526ZM500 1360H526V1375H500ZM513 1375H552V1389H513ZM565 1375H578V1389H565Z"/>
<path fill="#2b8dd2" d="M526 1276H539V1290H526ZM578 1290H591V1304H578ZM591 1304H618V1318H591ZM487 1318H513V1332H487ZM539 1346H552V1360H539ZM618 1346H631V1360H618ZM526 1360H539V1375H526ZM591 1360H605V1375H591ZM552 1389H565V1403H552ZM513 1403H526V1417H513Z"/>
<path fill="#2e85c6" d="M500 1304H526V1318H500ZM500 1346H513V1360H500ZM539 1360H552V1375H539Z"/>
<path fill="#317fbb" d="M552 1276H591V1290H552ZM605 1318H618V1332H605ZM513 1332H526V1346H513ZM552 1360H565V1375H552Z"/>
<path fill="#3578af" d="M578 1318H605V1332H578ZM526 1332H539V1346H526Z"/>
<path fill="#3871a3" d="M513 1290H526V1304H513ZM513 1318H526V1332H513ZM552 1375H565V1389H552Z"/>
<path fill="#3b6a96" d="M526 1290H539V1304H526ZM565 1360H578V1375H565Z"/>
<path fill="#3c648a" d="M565 1290H578V1304H565Z"/>
<path fill="#3d5671" d="M539 1290H565V1304H539ZM526 1304H578V1318H526ZM526 1318H578V1332H526ZM539 1332H591V1346H539ZM552 1346H565V1360H552Z"/>
</g>
<text class="t" text-anchor="end" x="168.30" y="1694.30">0.0</text>
<text class="t" text-anchor="middle" x="217.00" y="1754.70">0.0</text>
<text class="t" text-anchor="end" x="168.30" y="1547.58">0.2</text>
<text class="t" text-anchor="middle" x="351.20" y="1754.70">0.2</text>
<text class="t" text-anchor="end" x="168.30" y="1400.86">0.4</text>
<text class="t" text-anchor="middle" x="485.40" y="1754.70">0.4</text>
<text class="t" text-anchor="end" x="168.30" y="1254.14">0.6</text>
<text class="t" text-anchor="middle" x="619.60" y="1754.70">0.6</text>
<text class="t" text-anchor="end" x="168.30" y="1107.42">0.8</text>
<text class="t" text-anchor="middle" x="753.80" y="1754.70">0.8</text>
<text class="t" text-anchor="end" x="168.30" y="960.70">1.0</text>
<text class="t" text-anchor="middle" x="888.00" y="1754.70">1.0</text>
<path class="k" d="M180.30 1680.60H191.50M217.00 1704.40V1715.60M180.30 1533.88H191.50M351.20 1704.40V1715.60M180.30 1387.16H191.50M485.40 1704.40V1715.60M180.30 1240.44H191.50M619.60 1704.40V1715.60M180.30 1093.72H191.50M753.80 1704.40V1715.60M180.30 947.00H191.50M888.00 1704.40V1715.60"/>
<text class="l" text-anchor="middle" x="537.50" y="1814.50">x</text>
<text class="l" text-anchor="middle" transform="translate(93.60 1320.20) rotate(-90)">y</text>
</g>
<g id="wh">
<g shape-rendering="crispEdges">
<path fill="#aac8ee" d="M1417 968H1430V982H1417ZM1574 968H1588V982H1574ZM1758 968H1771V982H1758ZM1286 982H1299V996H1286ZM1496 982H1509V996H1496ZM1666 996H1679V1010H1666ZM1719 996H1745V1010H1719ZM1535 1010H1548V1024H1535ZM1719 1010H1758V1024H1719ZM1404 1024H1417V1038H1404ZM1443 1024H1456V1038H1443ZM1561 1024H1574V1038H1561ZM1719 1024H1732V1038H1719ZM1272 1038H1286V1052H1272ZM1325 1038H1338V1052H1325ZM1417 1038H1430V1052H1417ZM1469 1038H1482V1052H1469ZM1548 1038H1561V1052H1548ZM1666 1038H1679V1052H1666ZM1719 1038H1745V1052H1719ZM1286 1066H1299V1080H1286ZM1443 1066H1456V1080H1443ZM1627 1066H1666V1080H1627ZM1233 1080H1246V1094H1233ZM1272 1080H1299V1094H1272ZM1351 1080H1378V1094H1351ZM1496 1080H1509V1094H1496ZM1548 1080H1561V1094H1548ZM1601 1080H1614V1094H1601ZM1272 1094H1286V1108H1272ZM1312 1094H1338V1108H1312ZM1378 1094H1391V1108H1378ZM1456 1094H1469V1108H1456ZM1574 1094H1588V1108H1574ZM1430 1108H1456V1122H1430ZM1496 1108H1509V1122H1496ZM1522 1108H1535V1122H1522ZM1627 1108H1640V1122H1627ZM1653 1108H1666V1122H1653ZM1272 1122H1286V1136H1272ZM1299 1122H1325V1136H1299ZM1338 1122H1351V1136H1338ZM1391 1122H1404V1136H1391ZM1456 1122H1469V1136H1456ZM1509 1122H1522V1136H1509ZM1640 1122H1653V1136H1640ZM1246 1136H1272V1150H1246ZM1325 1136H1338V1150H1325ZM1364 1136H1391V1150H1364ZM1482 1136H1496V1150H1482ZM1588 1136H1601V1150H1588ZM1259 1150H1272V1164H1259ZM1286 1150H1299V1164H1286ZM1325 1150H1338V1164H1325ZM1351 1150H1378V1164H1351ZM1404 1150H1417V1164H1404ZM1443 1150H1456V1164H1443ZM1509 1150H1548V1164H1509ZM1561 1150H1574V1164H1561ZM1272 1164H1299V1178H1272ZM1456 1164H1469V1178H1456ZM1496 1164H1522V1178H1496ZM1574 1164H1588V1178H1574ZM1601 1164H1614V1178H1601ZM1220 1178H1246V1192H1220ZM1259 1178H1272V1192H1259ZM1286 1178H1299V1192H1286ZM1325 1178H1338V1192H1325ZM1351 1178H1364V1192H1351ZM1378 1178H1404V1192H1378ZM1456 1178H1469V1192H1456ZM1509 1178H1522V1192H1509ZM1548 1178H1561V1192H1548ZM1653 1178H1666V1192H1653ZM1246 1192H1259V1206H1246ZM1272 1192H1299V1206H1272ZM1325 1192H1351V1206H1325ZM1378 1192H1391V1206H1378ZM1456 1192H1469V1206H1456ZM1522 1192H1535V1206H1522ZM1561 1192H1574V1206H1561ZM1666 1192H1679V1206H1666ZM1259 1206H1272V1220H1259ZM1286 1206H1312V1220H1286ZM1351 1206H1364V1220H1351ZM1469 1206H1482V1220H1469ZM1522 1206H1535V1220H1522ZM1588 1206H1601V1220H1588ZM1233 1220H1246V1234H1233ZM1259 1220H1272V1234H1259ZM1299 1220H1338V1234H1299ZM1378 1220H1391V1234H1378ZM1430 1220H1443V1234H1430ZM1496 1220H1522V1234H1496ZM1535 1220H1548V1234H1535ZM1194 1234H1207V1248H1194ZM1233 1234H1246V1248H1233ZM1259 1234H1286V1248H1259ZM1299 1234H1325V1248H1299ZM1351 1234H1364V1248H1351ZM1378 1234H1404V1248H1378ZM1509 1234H1522V1248H1509ZM1574 1234H1601V1248H1574ZM1706 1234H1719V1248H1706ZM1233 1248H1246V1262H1233ZM1272 1248H1299V1262H1272ZM1312 1248H1325V1262H1312ZM1338 1248H1364V1262H1338ZM1378 1248H1391V1262H1378ZM1417 1248H1430V1262H1417ZM1443 1248H1456V1262H1443ZM1469 1248H1482V1262H1469ZM1548 1248H1561V1262H1548ZM1220 1262H1233V1276H1220ZM1259 1262H1338V1276H1259ZM1364 1262H1404V1276H1364ZM1417 1262H1430V1276H1417ZM1272 1276H1286V1290H1272ZM1299 1276H1325V1290H1299ZM1338 1276H1378V1290H1338ZM1404 1276H1417V1290H1404ZM1430 1276H1443V1290H1430ZM1548 1276H1561V1290H1548ZM1653 1276H1666V1290H1653ZM1732 1276H1745V1290H1732ZM1207 1290H1220V1304H1207ZM1259 1290H1299V1304H1259ZM1351 1290H1364V1304H1351ZM1391 1290H1404V1304H1391ZM1443 1290H1456V1304H1443ZM1522 1290H1548V1304H1522ZM1574 1290H1588V1304H1574ZM1601 1290H1614V1304H1601ZM1640 1290H1653V1304H1640ZM1220 1304H1246V1318H1220ZM1272 1304H1286V1318H1272ZM1312 1304H1325V1318H1312ZM1338 1304H1417V1318H1338ZM1469 1304H1496V1318H1469ZM1535 1304H1548V1318H1535ZM1561 1304H1574V1318H1561ZM1194 1318H1220V1332H1194ZM1233 1318H1325V1332H1233ZM1351 1318H1404V1332H1351ZM1430 1318H1443V1332H1430ZM1496 1318H1522V1332H1496ZM1561 1318H1574V1332H1561ZM1194 1332H1207V1346H1194ZM1220 1332H1338V1346H1220ZM1351 1332H1417V1346H1351ZM1443 1332H1469V1346H1443ZM1692 1332H1706V1346H1692ZM1194 1346H1220V1360H1194ZM1233 1346H1272V1360H1233ZM1286 1346H1364V1360H1286ZM1391 1346H1417V1360H1391ZM1482 1346H1496V1360H1482ZM1561 1346H1574V1360H1561ZM1181 1360H1194V1375H1181ZM1207 1360H1259V1375H1207ZM1272 1360H1325V1375H1272ZM1351 1360H1364V1375H1351ZM1391 1360H1404V1375H1391ZM1417 1360H1469V1375H1417ZM1666 1360H1679V1375H1666ZM1181 1375H1207V1389H1181ZM1220 1375H1233V1389H1220ZM1272 1375H1404V1389H1272ZM1417 1375H1443V1389H1417ZM1469 1375H1496V1389H1469ZM1548 1375H1561V1389H1548ZM1679 1375H1692V1389H1679ZM1194 1389H1312V1403H1194ZM1325 1389H1404V1403H1325ZM1443 1389H1456V1403H1443ZM1469 1389H1509V1403H1469ZM1535 1389H1548V1403H1535ZM1614 1389H1627V1403H1614ZM1181 1403H1325V1417H1181ZM1338 1403H1364V1417H1338ZM1391 1403H1404V1417H1391ZM1417 1403H1430V1417H1417ZM1443 1403H1469V1417H1443ZM1588 1403H1601V1417H1588ZM1614 1403H1627V1417H1614ZM1194 1417H1233V1431H1194ZM1246 1417H1364V1431H1246ZM1391 1417H1430V1431H1391ZM1509 1417H1535V1431H1509ZM1168 1431H1233V1445H1168ZM1246 1431H1272V1445H1246ZM1286 1431H1338V1445H1286ZM1364 1431H1404V1445H1364ZM1417 1431H1443V1445H1417ZM1456 1431H1469V1445H1456ZM1482 1431H1509V1445H1482ZM1548 1431H1561V1445H1548ZM1168 1445H1351V1459H1168ZM1364 1445H1391V1459H1364ZM1417 1445H1430V1459H1417ZM1443 1445H1456V1459H1443ZM1666 1445H1679V1459H1666ZM1168 1459H1338V1473H1168ZM1351 1459H1364V1473H1351ZM1378 1459H1404V1473H1378ZM1430 1459H1456V1473H1430ZM1482 1459H1509V1473H1482ZM1154 1473H1299V1487H1154ZM1312 1473H1378V1487H1312ZM1391 1473H1404V1487H1391ZM1430 1473H1443V1487H1430ZM1522 1473H1535V1487H1522ZM1653 1473H1666V1487H1653ZM1154 1487H1364V1501H1154ZM1417 1487H1430V1501H1417ZM1456 1487H1469V1501H1456ZM1154 1501H1364V1515H1154ZM1404 1501H1430V1515H1404ZM1496 1501H1509V1515H1496ZM1548 1501H1561V1515H1548ZM1154 1515H1364V1529H1154ZM1391 1515H1430V1529H1391ZM1496 1515H1509V1529H1496ZM1548 1515H1561V1529H1548ZM1141 1529H1364V1543H1141ZM1404 1529H1443V1543H1404ZM1154 1543H1299V1557H1154ZM1325 1543H1338V1557H1325ZM1351 1543H1364V1557H1351ZM1378 1543H1404V1557H1378ZM1456 1543H1469V1557H1456ZM1141 1557H1312V1571H1141ZM1325 1557H1338V1571H1325ZM1141 1571H1299V1585H1141ZM1338 1571H1364V1585H1338ZM1128 1585H1325V1599H1128ZM1364 1585H1378V1599H1364ZM1496 1585H1509V1599H1496ZM1758 1585H1771V1599H1758ZM1128 1599H1246V1613H1128ZM1259 1599H1272V1613H1259ZM1286 1599H1299V1613H1286ZM1338 1599H1351V1613H1338ZM1115 1613H1246V1627H1115ZM1115 1627H1220V1641H1115ZM1233 1627H1246V1641H1233ZM1141 1641H1181V1655H1141ZM1141 1655H1154V1669H1141Z"/>
<path fill="#8fbdf1" d="M1115 1641H1128V1655H1115ZM1128 1655H1141V1669H1128Z"/>
<path fill="#55adf5" d="M1128 1641H1141V1655H1128Z"/>
<path fill="#3d546e" d="M1115 1655H1128V1669H1115Z"/>
</g>
<text class="t" text-anchor="end" x="1059.30" y="1688.50">0.0</text>
<text class="t" text-anchor="middle" x="1110.50" y="1754.70">0.0</text>
<text class="t" text-anchor="end" x="1059.30" y="1545.00">0.2</text>
<text class="t" text-anchor="middle" x="1245.65" y="1754.70">0.2</text>
<text class="t" text-anchor="end" x="1059.30" y="1401.50">0.4</text>
<text class="t" text-anchor="middle" x="1380.80" y="1754.70">0.4</text>
<text class="t" text-anchor="end" x="1059.30" y="1258.00">0.6</text>
<text class="t" text-anchor="middle" x="1515.95" y="1754.70">0.6</text>
<text class="t" text-anchor="end" x="1059.30" y="1114.50">0.8</text>
<text class="t" text-anchor="middle" x="1651.10" y="1754.70">0.8</text>
<text class="t" text-anchor="end" x="1059.30" y="971.00">1.0</text>
<text class="t" text-anchor="middle" x="1786.25" y="1754.70">1.0</text>
<path class="k" d="M1071.30 1673.90H1082.50M1110.50 1704.40V1715.60M1071.30 1530.40H1082.50M1245.65 1704.40V1715.60M1071.30 1386.90H1082.50M1380.80 1704.40V1715.60M1071.30 1243.40H1082.50M1515.95 1704.40V1715.60M1071.30 1099.90H1082.50M1651.10 1704.40V1715.60M1071.30 956.40H1082.50M1786.25 1704.40V1715.60"/>
<text class="l" text-anchor="middle" x="1448.70" y="1814.80">width</text>
<text class="l" text-anchor="middle" transform="translate(991.10 1320.90) rotate(-90)">height</text>
</g>
</svg>
</body></html>
